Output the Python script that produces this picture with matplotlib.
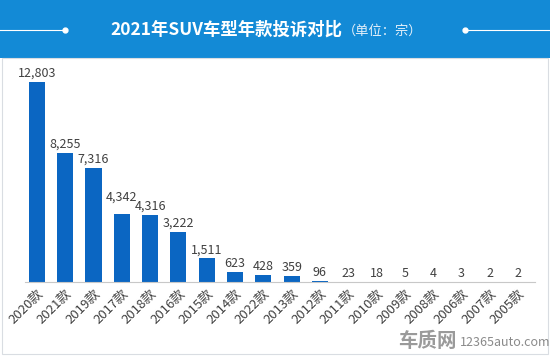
import matplotlib
matplotlib.use('Agg')
import matplotlib.pyplot as plt
from matplotlib.patches import Rectangle
from matplotlib.lines import Line2D

plt.rcParams['font.family'] = ['Noto Sans CJK SC', 'DejaVu Sans']

# data
years = ['2020款', '2021款', '2019款', '2017款', '2018款', '2016款', '2015款', '2014款', '2022款',
         '2013款', '2012款', '2011款', '2010款', '2009款', '2008款', '2006款', '2007款', '2005款']
complaints = [12803, 8255, 7316, 4342, 4316, 3222, 1511, 623, 428,
              359, 96, 23, 18, 5, 4, 3, 2, 2]

header_blue = '#138ad6'
bar_blue = '#0b66c2'

W, H = 550, 356
fig = plt.figure(figsize=(W / 100, H / 100), dpi=100)
fig.patch.set_facecolor('white')

# header band
fig.add_artist(Rectangle((0, 1 - 58 / H), 1, 58 / H, transform=fig.transFigure,
                         facecolor=header_blue, edgecolor='none', zorder=0))
# chart frame
fig.add_artist(Rectangle((2 / W, 2 / H), 546 / W, (H - 60) / H, transform=fig.transFigure,
                         facecolor='none', edgecolor='#d9dde2', lw=0.8, zorder=0))

# decorative lines in header
ly = 1 - 30 / H
fig.add_artist(Line2D([0, 65 / W], [ly, ly], transform=fig.transFigure, color='white', lw=0.8))
fig.add_artist(Line2D([465 / W, 1], [ly, ly], transform=fig.transFigure, color='white', lw=0.8))
fig.add_artist(Line2D([65 / W, 465 / W], [ly, ly], transform=fig.transFigure, ls='none',
                      marker='o', ms=3.5, color='white'))

fig.text(342 / W, ly, '2021年SUV车型年款投诉对比', color='white', fontsize=12.5,
         fontweight='bold', ha='right', va='center')
fig.text(343 / W, ly - 0.003, '（单位：宗）', color='#e6f1fa', fontsize=9.5, ha='left', va='center')

# plot axes
left, right, bottom, top = 25, 535, H - 282, H - 60
ax = fig.add_axes([left / W, bottom / H, (right - left) / W, (top - bottom) / H])
x = list(range(len(years)))
ax.bar(x, complaints, width=0.57, color=bar_blue, zorder=2)
ax.set_xlim(-0.42, 17.6)
ax.set_ylim(0, 12803 * (top - bottom) / 200)

# the 2017 label sits a bit higher so it clears its neighbour
for xi, v in zip(x, complaints):
    lift = 11 if xi == 3 else 2
    ax.annotate(f'{v:,}', (xi, v), xytext=(0, lift), textcoords='offset pixels',
                ha='center', va='bottom', fontsize=9, color='#404040')

ax.set_xticks(x)
ax.set_xticklabels(years, rotation=45, ha='right', va='top', rotation_mode='anchor',
                   fontsize=9.5, color='#404040')
ax.tick_params(axis='x', length=0, pad=4)
ax.set_yticks([])
for s in ['top', 'right', 'left']:
    ax.spines[s].set_visible(False)
ax.spines['bottom'].set_color('#c8c8c8')
ax.spines['bottom'].set_linewidth(0.8)
ax.patch.set_alpha(0)

# watermark
fig.text(457 / W, 1 - 341 / H, '车质网', fontsize=14, fontweight='bold', color='#9a9a9a',
         ha='right', va='center')
fig.text(460 / W, 1 - 342 / H, '12365auto.com', fontsize=9, color='#8a8a8a',
         ha='left', va='center')

fig.savefig('out.png', dpi=100)
